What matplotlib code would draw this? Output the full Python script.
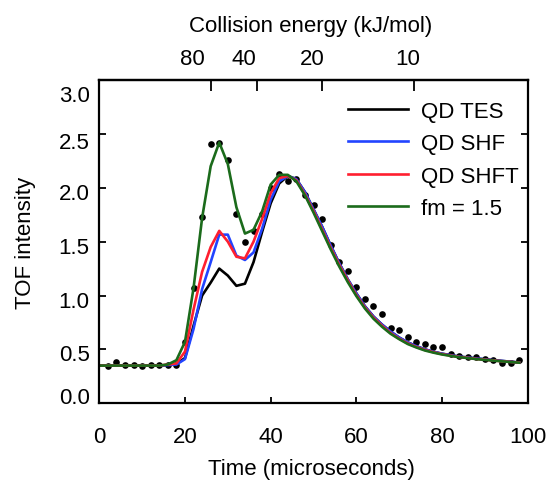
import numpy as np
import matplotlib
matplotlib.use("Agg")
import matplotlib.pyplot as plt
from matplotlib.transforms import ScaledTranslation, blended_transform_factory

plt.rcParams['font.family'] = ['Liberation Sans', 'DejaVu Sans']

# ---------------- data ----------------
time_model = np.arange(0, 100, 2)  # microseconds

qd_tes = [0.35, 0.35, 0.35, 0.35, 0.35, 0.35, 0.35, 0.35,
          0.355, 0.365, 0.42, 0.72, 1.00, 1.12, 1.25, 1.185, 1.09, 1.11,
          1.31, 1.59, 1.855, 2.04, 2.11, 2.08,
          1.96, 1.80, 1.64, 1.465, 1.30, 1.15, 1.02, 0.90, 0.805, 0.73,
          0.665, 0.61, 0.565, 0.53, 0.50, 0.478, 0.46, 0.447, 0.433, 0.425,
          0.416, 0.408, 0.40, 0.393, 0.386, 0.378]

qd_shf = [0.35, 0.35, 0.35, 0.35, 0.35, 0.35, 0.35, 0.35,
          0.355, 0.36, 0.41, 0.69, 1.06, 1.31, 1.565, 1.565, 1.37, 1.33,
          1.40, 1.62, 1.89, 2.06, 2.11, 2.08,
          1.96, 1.80, 1.64, 1.465, 1.30, 1.15, 1.02, 0.90, 0.805, 0.73,
          0.665, 0.61, 0.565, 0.53, 0.50, 0.478, 0.46, 0.447, 0.433, 0.425,
          0.416, 0.408, 0.40, 0.393, 0.386, 0.378]

qd_shft = [0.35, 0.35, 0.35, 0.35, 0.35, 0.35, 0.35, 0.35,
           0.36, 0.37, 0.48, 0.87, 1.22, 1.45, 1.60, 1.50, 1.36, 1.345,
           1.50, 1.71, 1.95, 2.09, 2.11, 2.07,
           1.94, 1.785, 1.615, 1.445, 1.285, 1.14, 1.005, 0.89, 0.795, 0.72,
           0.652, 0.60, 0.556, 0.523, 0.495, 0.474, 0.456, 0.443, 0.43, 0.422,
           0.412, 0.405, 0.398, 0.39, 0.384, 0.378]

fm_15 = [0.35, 0.35, 0.35, 0.35, 0.35, 0.35, 0.35, 0.35,
         0.36, 0.40, 0.57, 1.07, 1.72, 2.20, 2.42, 2.22, 1.82, 1.575,
         1.61, 1.78, 2.03, 2.12, 2.12, 2.06,
         1.93, 1.77, 1.60, 1.43, 1.27, 1.125, 0.995, 0.88, 0.785, 0.71,
         0.645, 0.595, 0.55, 0.518, 0.49, 0.47, 0.453, 0.44, 0.428, 0.42,
         0.41, 0.403, 0.396, 0.389, 0.383, 0.377]

time_exp = np.arange(2, 100, 2)
tof_exp = [0.344, 0.381, 0.353, 0.353, 0.344, 0.353, 0.353, 0.353, 0.36,
           0.57, 1.07, 1.73, 2.41, 2.42, 2.26, 1.76, 1.50, 1.60, 1.76, 2.00,
           2.13, 2.06, 2.08, 1.93, 1.84, 1.71, 1.47, 1.31, 1.23, 1.08, 0.97,
           0.90, 0.83, 0.70, 0.68, 0.615, 0.57, 0.547, 0.52, 0.52, 0.455,
           0.44, 0.43, 0.425, 0.415, 0.40, 0.37, 0.375, 0.40]

series_labels = ["QD TES", "QD SHF", "QD SHFT", "fm = 1.5"]
series_colors = ["#000000", "#2244ff", "#ff1f2f", "#1b6b1b"]

x_ticks = [0, 20, 40, 60, 80, 100]
y_ticks = [0.0, 0.5, 1.0, 1.5, 2.0, 2.5, 3.0]
y_tick_labels = ["0.0", "0.5", "1.0", "1.5", "2.0", "2.5", "3.0"]
energy_ticks = [80, 40, 20, 10]
energy_labels = ["80", "40", "20", "10"]
K_ENERGY = 54000.0  # E = K / t^2

FS = 16

# ---------------- figure ----------------
W, H = 548, 481
fig = plt.figure(figsize=(W / 100, H / 100), dpi=100)
L, R, T, B = 99.3, 527.7, 81.0, 404.3
ax = fig.add_axes([L / W, 1 - B / H, (R - L) / W, (B - T) / H])

ax.plot(time_exp, tof_exp, 'o', color='black', markersize=4.8, zorder=1,
        markeredgewidth=0)
for ys, lab, col in zip([qd_tes, qd_shf, qd_shft, fm_15], series_labels, series_colors):
    ax.plot(time_model, ys, color=col, lw=1.9, label=lab, zorder=2)

ax.set_xlim(0, 100)
ax.set_ylim(0, 3.0)
ax.set_xticks(x_ticks)
ax.set_yticks(y_ticks)
ax.set_yticklabels(y_tick_labels)

for s in ax.spines.values():
    s.set_linewidth(1.6)

ax.tick_params(axis='x', direction='in', length=4.5, width=1.3, labelsize=FS,
               pad=16.5, top=False)
ax.tick_params(axis='y', direction='in', length=5, width=1.3, labelsize=FS,
               pad=7.0, right=True)

# y tick label vertical nudges (pixels, positive = down)
y_offsets = [-8.5, 3.0, 3.7, 3.7, 3.7, 5.7, 12.5]
for lab, dy in zip(ax.get_yticklabels(), y_offsets):
    lab.set_transform(lab.get_transform() +
                      ScaledTranslation(0, -dy / 100, fig.dpi_scale_trans))

ax.set_xlabel("Time (microseconds)", fontsize=FS, va='center')
ax.xaxis.set_label_coords(0.495, -(470 - B) / (B - T))
ax.set_ylabel("TOF intensity", fontsize=FS, va='center')
ax.yaxis.set_label_coords((25 - L) / (R - L), 0.5)

# top energy axis
def t2e(t):
    t = np.asarray(t, dtype=float)
    return K_ENERGY / np.clip(t, 1e-3, None) ** 2

def e2t(e):
    e = np.asarray(e, dtype=float)
    return np.sqrt(K_ENERGY / np.clip(e, 1e-6, None))

secax = ax.secondary_xaxis('top', functions=(t2e, e2t))
secax.set_xticks(energy_ticks)
secax.set_xticklabels([])
secax.tick_params(axis='x', direction='in', length=7.7, width=1.3)
secax.spines['top'].set_linewidth(1.6)

label_dx = [-18, -12.5, -9.2, -6.5]
tr_top = blended_transform_factory(ax.transData, ax.transAxes)
for e, lab, dx in zip(energy_ticks, energy_labels, label_dx):
    ax.text(float(e2t(e)), 1.0, lab, fontsize=FS, ha='center', va='center',
            transform=tr_top + ScaledTranslation(dx / 100, 21.7 / 100, fig.dpi_scale_trans))
ax.text(0.5, 1.0, "Collision energy (kJ/mol)", fontsize=FS, ha='center', va='center',
        transform=ax.transAxes + ScaledTranslation(-3 / 100, 55 / 100, fig.dpi_scale_trans))

leg = ax.legend(loc='upper left', bbox_to_anchor=((348.3 - L) / (R - L), (B - 101.5) / (B - T)),
                frameon=False, fontsize=FS, handlelength=2.7, handletextpad=0.56,
                labelspacing=0.52, borderpad=0, borderaxespad=0)

fig.savefig("out.png", dpi=100)
